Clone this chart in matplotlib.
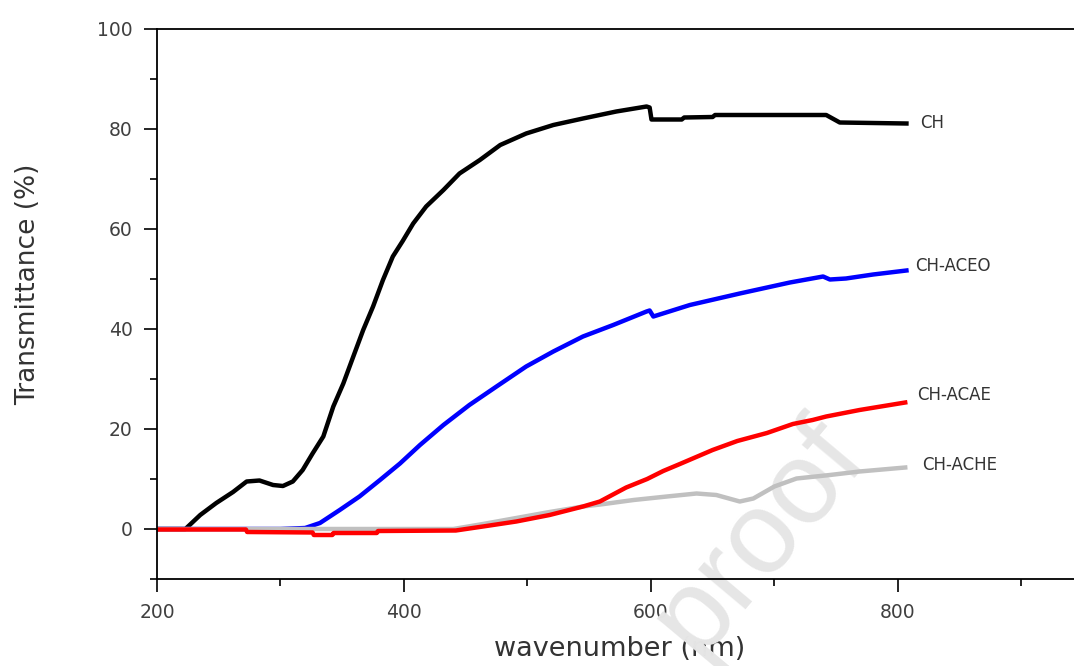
import numpy as np
import matplotlib.pyplot as plt

plt.rcParams['font.family'] = ['DejaVu Sans']

# wavelength (nm) / transmittance (%)
ch_x = [200, 223, 235, 248, 261.6, 272.6, 283, 294, 302, 310, 318, 326, 334.7, 342.8,
        350.9, 359, 367, 375, 383, 391, 399, 407.5, 418, 432, 445, 461.5, 478, 499,
        521, 545, 572, 596.5, 599, 600.5, 625, 627, 650, 652, 742, 753, 807]
ch_y = [0, 0, 2.8, 5.2, 7.4, 9.5, 9.7, 8.8, 8.6, 9.5, 11.8, 15.1, 18.5, 24.5,
        29.1, 34.5, 39.8, 44.5, 49.8, 54.5, 57.6, 61.1, 64.5, 67.8, 71.1, 73.8, 76.8, 79.1,
        80.8, 82.1, 83.5, 84.5, 84.3, 81.9, 81.9, 82.3, 82.4, 82.8, 82.8, 81.3, 81.1]

aceo_x = [200, 300, 320, 332, 348, 364, 380.6, 396.8, 413, 432, 453, 475, 499, 521,
          545, 569.5, 596.5, 599, 602, 631.6, 672, 712.6, 739.5, 745, 758, 780, 807]
aceo_y = [0, 0, 0.2, 1.2, 3.8, 6.5, 9.8, 13.1, 16.8, 20.8, 24.8, 28.5, 32.5, 35.5,
          38.5, 40.8, 43.5, 43.7, 42.5, 44.8, 47.1, 49.3, 50.5, 49.9, 50.1, 50.9, 51.7]

ache_x = [200, 440, 464, 491, 518, 545, 559, 586, 613, 637, 653, 672, 683, 700,
          718, 745, 769, 806]
ache_y = [0, 0, 1.0, 2.2, 3.4, 4.5, 4.9, 5.8, 6.5, 7.1, 6.8, 5.5, 6.1, 8.5,
          10.1, 10.8, 11.5, 12.3]

acae_x = [200, 272, 273, 326, 327, 342, 343, 378, 379, 442, 464, 491, 518, 545,
          558.7, 580, 597, 610, 623.5, 650, 670, 694, 715, 731, 742, 769, 806]
acae_y = [-0.1, -0.1, -0.6, -0.7, -1.2, -1.2, -0.8, -0.8, -0.4, -0.3, 0.5, 1.5, 2.8, 4.5,
          5.5, 8.3, 10.0, 11.6, 13.0, 15.8, 17.6, 19.2, 21.0, 21.8, 22.5, 23.8, 25.3]

names = ['CH', 'CH-ACEO', 'CH-ACAE', 'CH-ACHE']
label_x = [818, 814, 816, 820]
label_y = [81.2, 52.6, 26.8, 12.8]

fig = plt.figure(figsize=(10.74, 6.66), dpi=100)
ax = fig.add_axes([157 / 1074, 87 / 666, 926 / 1074, 550 / 666])

lw = 3.2
ax.plot(ch_x, ch_y, color='black', lw=lw, zorder=2)
ax.plot(aceo_x, aceo_y, color='#0000ff', lw=lw, zorder=2.1)
ax.plot(ache_x, ache_y, color='#c0c0c0', lw=lw, zorder=2.2)
ax.plot(acae_x, acae_y, color='#ff0000', lw=lw, zorder=2.3)

for n, lx, ly in zip(names, label_x, label_y):
    ax.text(lx, ly, n, fontsize=12, color='#333333', va='center', ha='left')

ax.set_xlim(200, 950)
ax.set_ylim(-10, 100)
ax.set_xticks([200, 400, 600, 800])
ax.set_xticks([300, 500, 700, 900], minor=True)
ax.set_yticks([0, 20, 40, 60, 80, 100])
ax.set_yticks([-10, 10, 30, 50, 70, 90], minor=True)

ax.spines['right'].set_visible(False)
for s in ['left', 'bottom', 'top']:
    ax.spines[s].set_linewidth(1.3)
ax.tick_params(which='major', direction='out', length=9.5, width=1.2,
               labelsize=13.5, labelcolor='#404040', pad=8)
ax.tick_params(which='minor', direction='out', length=5, width=1.2)
ax.tick_params(top=False, right=False, which='both')

ax.set_xlabel('wavenumber (nm)', fontsize=19.5, color='#333333', labelpad=10)
ax.set_ylabel('Transmittance (%)', fontsize=19, color='#333333')
ax.yaxis.set_label_coords(-0.125, 0.535)

# journal watermark, above the axis labels but below the curves
ax.text(0.707, 0.193, 'proof', transform=fig.transFigure, fontsize=84,
        color='#e6e6e6', rotation=50, ha='center', va='center',
        rotation_mode='anchor', zorder=1.8, clip_on=False,
        family='Liberation Sans')

fig.savefig('out.png', dpi=100)
